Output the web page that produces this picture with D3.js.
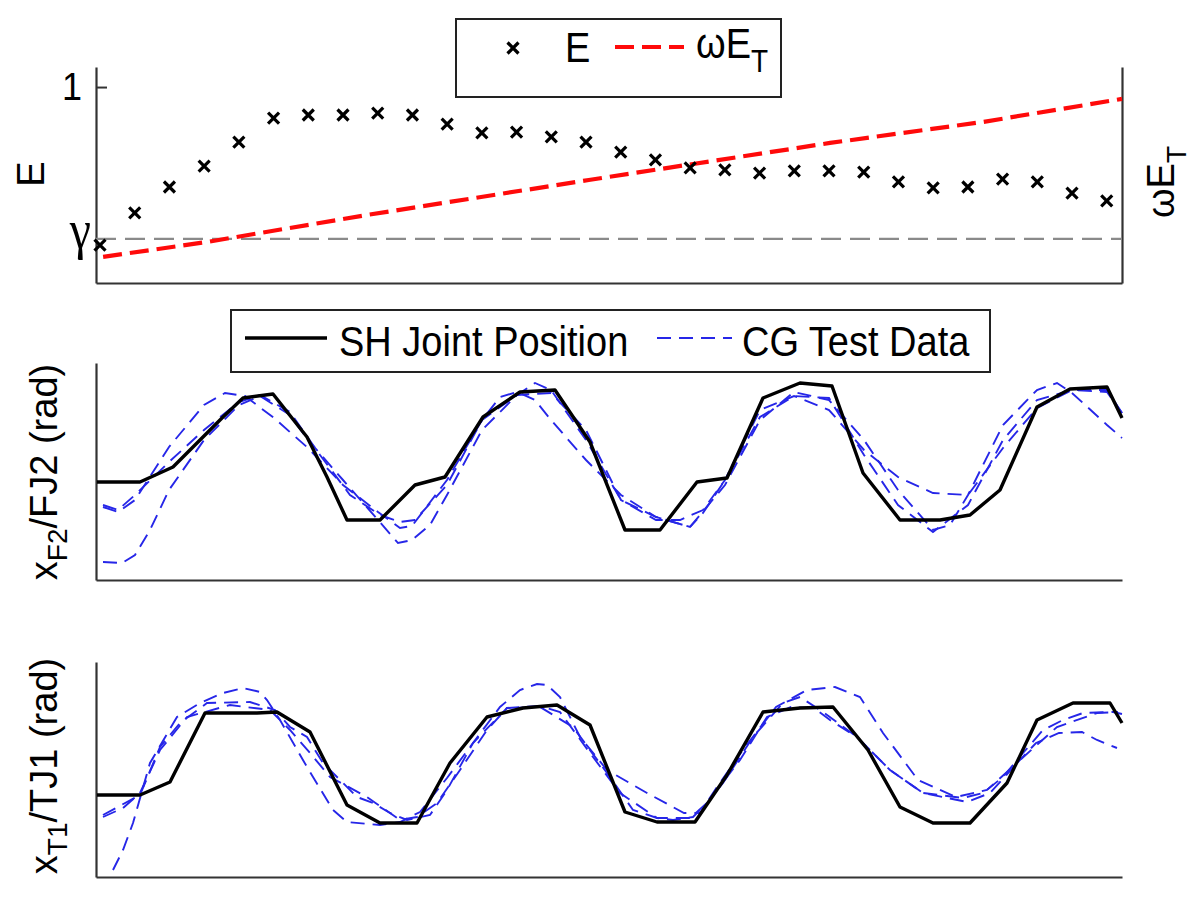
<!DOCTYPE html>
<html><head><meta charset="utf-8">
<script src="https://cdn.jsdelivr.net/npm/d3@7"></script>
<style>
body{margin:0;background:#fff}
text{font-family:"Liberation Sans",Arial,sans-serif;fill:#000}
</style>
</head><body>
<svg id="c" width="1200" height="905"></svg>
<script>
// ---------- Top panel data ----------
const trials = [1,2,3,4,5,6,7,8,9,10,11,12,13,14,15,16,17,18,19,20,21,22,23,24,25,26,27,28,29,30];
const E = [0.480,0.586,0.671,0.740,0.819,0.898,0.908,0.908,0.914,0.908,0.878,0.849,0.852,0.836,0.819,
           0.786,0.760,0.734,0.727,0.717,0.724,0.724,0.720,0.688,0.668,0.671,0.697,0.688,0.651,0.625];
const gamma = 0.5;
const wET_trial = [1.09,4.08,8.69,15.08,22.03,26.43,30.44];
const wET = [0.441,0.490,0.579,0.694,0.816,0.885,0.961];
const eTickValues = [1];
const eTickLabels = ["1"];

// ---------- Middle panel data (x_F2 / FJ2) ----------
const midSH_t = [0.1,4.4,7.7,9.7,12.7,14.7,17.7,21.1,23.1,25.1,28.4,31.9,34.9,38.7,42.4,45.9,49.4,52.9,56.4,60.1,63.1,66.7,70.4,73.6,76.7,80.4,84.4,87.4,90.4,94.1,97.4,101.1,102.6];
const midSH   = [-0.12,-0.12,0.03,0.23,0.53,0.72,0.76,0.33,-0.07,-0.50,-0.50,-0.15,-0.07,0.53,0.78,0.80,0.28,-0.60,-0.60,-0.12,-0.08,0.72,0.87,0.84,-0.03,-0.50,-0.50,-0.45,-0.20,0.63,0.81,0.83,0.52];
const midCG1_t = [0.7,2.2,3.9,7.3,10.8,12.9,14.9,17.8,21.2,24.7,28.2,30.4,31.6,35.1,38.6,40.4,42.1,43.9,45.5,49.0,52.5,56.0,59.4,62.9,66.4,69.8,73.3,76.8,80.2,83.7,85.4,87.2,90.7,94.1,96.1,97.6,101.1,102.6];
const midCG1   = [-0.37,-0.42,-0.30,0.23,0.65,0.77,0.74,0.52,0.22,-0.15,-0.42,-0.58,-0.56,-0.10,0.50,0.73,0.78,0.70,0.50,0.10,-0.25,-0.47,-0.57,-0.15,0.50,0.78,0.70,0.30,-0.20,-0.60,-0.55,-0.25,0.45,0.80,0.87,0.77,0.45,0.32];
const midCG2_t = [0.7,2.6,3.9,5.4,7.3,10.8,14.3,16.4,19.4,21.2,24.7,28.2,30.2,31.6,33.4,35.1,38.6,42.1,43.9,45.5,49.0,52.5,56.0,59.4,60.7,62.9,66.4,69.8,73.3,76.8,80.2,83.7,87.2,90.7,94.1,97.6,101.1,102.6];
const midCG2   = [-0.92,-0.93,-0.85,-0.60,-0.20,0.30,0.65,0.74,0.55,0.30,-0.10,-0.50,-0.73,-0.70,-0.55,-0.25,0.40,0.75,0.87,0.80,0.30,-0.30,-0.47,-0.57,-0.43,-0.10,0.53,0.74,0.72,0.15,-0.35,-0.62,-0.35,0.30,0.70,0.80,0.78,0.57];
const midCG3_t = [0.7,2.2,3.9,7.3,10.8,14.3,16.4,19.4,22.4,25.4,28.4,30.4,31.9,35.1,38.6,42.1,45.5,49.0,52.5,56.0,58.4,60.7,62.9,66.4,69.8,73.3,76.8,80.2,83.7,87.2,90.7,94.1,97.6,101.1,102.6];
const midCG3   = [-0.35,-0.40,-0.25,0.08,0.40,0.68,0.75,0.58,0.15,-0.25,-0.45,-0.52,-0.50,-0.15,0.50,0.75,0.77,0.40,-0.30,-0.50,-0.50,-0.40,-0.10,0.60,0.74,0.60,0.20,-0.07,-0.23,-0.25,0.22,0.62,0.80,0.80,0.57];

// ---------- Bottom panel data (x_T1 / TJ1) ----------
const botSH_t = [0.1,4.4,7.4,10.9,16.1,18.1,21.4,25.1,28.4,32.1,35.4,39.1,42.7,46.1,49.4,52.9,56.1,59.9,63.1,66.7,70.4,73.7,77.2,80.4,83.7,87.4,91.1,94.1,97.7,101.4,102.6];
const botSH   = [-0.25,-0.25,-0.12,0.57,0.57,0.58,0.38,-0.35,-0.53,-0.53,0.07,0.53,0.62,0.65,0.45,-0.42,-0.52,-0.52,-0.05,0.58,0.62,0.63,0.20,-0.37,-0.53,-0.53,-0.13,0.50,0.67,0.67,0.47];
const botCG1_t = [0.7,2.7,4.4,6.4,9.1,13.4,17.4,19.4,21.4,23.4,27.1,30.4,32.1,34.1,36.4,39.1,41.1,44.4,46.4,49.4,52.4,56.1,59.4,61.1,64.4,67.1,69.5,71.8,73.4,76.1,79.4,82.7,86.7,88.7,90.7,92.7,94.7,96.7,98.7,101.7,102.6];
const botCG1   = [-0.47,-0.38,-0.23,0.20,0.53,0.65,0.60,0.40,0.17,-0.07,-0.27,-0.50,-0.47,-0.33,0.00,0.40,0.62,0.64,0.58,0.17,-0.23,-0.48,-0.48,-0.33,0.10,0.53,0.63,0.62,0.50,0.33,0.00,-0.23,-0.28,-0.23,-0.07,0.17,0.40,0.50,0.57,0.58,0.56];
const botCG2_t = [1.7,2.7,3.7,5.4,8.1,10.4,12.7,14.7,16.4,17.1,18.4,21.1,23.7,25.1,28.4,30.4,32.4,35.1,37.7,40.4,42.4,44.1,45.1,46.4,48.4,51.1,55.1,58.8,60.4,61.9,64.9,68.0,71.1,73.9,76.4,78.7,82.2,86.0,89.1,92.1,94.0,96.3,98.6,100.1,102.1];
const botCG2   = [-1.00,-0.80,-0.53,0.07,0.53,0.67,0.77,0.82,0.78,0.70,0.50,0.03,-0.40,-0.52,-0.55,-0.52,-0.42,-0.08,0.27,0.63,0.80,0.86,0.85,0.73,0.33,0.00,-0.23,-0.43,-0.43,-0.20,0.23,0.63,0.80,0.83,0.73,0.37,-0.10,-0.27,-0.20,0.07,0.27,0.37,0.38,0.30,0.22];
const botCG3_t = [0.7,4.4,6.4,8.4,11.1,15.4,17.9,19.4,21.1,22.7,24.4,26.1,27.7,29.4,31.1,33.4,35.1,37.7,41.1,44.4,47.7,51.1,53.7,56.1,57.7,59.7,61.1,62.7,65.7,68.7,70.4,72.7,76.1,79.4,82.7,87.1,89.4,92.4,96.1,100.1,102.2];
const botCG3   = [-0.45,-0.25,0.23,0.47,0.67,0.68,0.60,0.43,0.33,0.07,-0.10,-0.27,-0.33,-0.43,-0.50,-0.45,-0.20,0.27,0.62,0.63,0.43,-0.03,-0.40,-0.48,-0.50,-0.47,-0.33,-0.13,0.33,0.67,0.73,0.58,0.33,0.00,-0.23,-0.32,-0.23,0.10,0.43,0.57,0.58];

// ---------- Drawing ----------
const svg = d3.select("#c");
const X0 = 96, X1 = 1122;
const xTrial = d3.scaleLinear().domain([0.885, 30.44]).range([X0, X1]);
const yE = d3.scaleLinear().domain([0.355, 1.066]).range([283, 67]);
const xTime = d3.scaleLinear().domain([0, 102.6]).range([X0, X1]);
const yMid = d3.scaleLinear().domain([-1.10, 1.07]).range([580, 363]);
const yBot = d3.scaleLinear().domain([-1.07, 1.08]).range([877, 662]);

const AX = "#333";
const SY = 1.1; // vertical stretch of the original figure's lettering
function styleAxis(g){
  g.selectAll(".domain").attr("stroke", AX).attr("stroke-width", 2.2);
  g.selectAll(".tick line").attr("stroke", AX).attr("stroke-width", 2);
  g.selectAll(".tick text").style("font-family", '"Liberation Sans",Arial,sans-serif').attr("fill","#000");
}
// horizontal text, stretched vertically about its baseline
function htext(x, y, size){
  return svg.append("text").attr("transform",`translate(${x},${y}) scale(1,${SY})`)
    .style("font-size", size + "px");
}

// top panel axes
const gTopL = svg.append("g").attr("transform", `translate(${X0},0)`)
  .call(d3.axisLeft(yE).tickValues(eTickValues).tickFormat((d,i)=>eTickLabels[i]).tickSizeInner(-11).tickSizeOuter(0).tickPadding(14));
styleAxis(gTopL);
gTopL.selectAll(".tick text").style("font-size","36px").attr("transform","scale(1,1.1)");
const gTopB = svg.append("g").attr("transform", `translate(0,283)`)
  .call(d3.axisBottom(xTrial).tickValues([]).tickSizeOuter(0));
styleAxis(gTopB);
const gTopR = svg.append("g").attr("transform", `translate(${X1},0)`)
  .call(d3.axisRight(yE).tickValues([]).tickSizeOuter(0));
styleAxis(gTopR);

// gamma line
svg.append("line").attr("x1", X0).attr("x2", X1).attr("y1", yE(gamma)).attr("y2", yE(gamma))
  .attr("stroke", "#8a8a8a").attr("stroke-width", 2.2).attr("stroke-dasharray", "20,9");
svg.append("text").attr("transform",`translate(91,${yE(gamma)+9}) scale(1,1.15)`).attr("text-anchor","end")
  .style("font-family",'"Liberation Serif","Times New Roman",serif').style("font-size","48px").text("γ");

// wE_T line
svg.append("path").datum(wET_trial.map((t,i)=>[t,wET[i]]))
  .attr("d", d3.line().x(d=>xTrial(d[0])).y(d=>yE(d[1])))
  .attr("fill","none").attr("stroke","#ff0a0a").attr("stroke-width",4.2).attr("stroke-dasharray","19,8");

// E markers
const cross = "M-5.5,-5.5L5.5,5.5M-5.5,5.5L5.5,-5.5";
svg.append("g").selectAll("path").data(trials).join("path")
  .attr("transform",(d,i)=>`translate(${xTrial(d)},${yE(E[i])})`)
  .attr("d", cross).attr("stroke","#000").attr("stroke-width",3.2).attr("fill","none");

// top y labels
svg.append("text").attr("transform","translate(44,174) rotate(-90)").attr("text-anchor","middle")
  .style("font-size","38px").text("E");
const rl = svg.append("text").attr("transform","translate(1174,182) rotate(-90)").attr("text-anchor","middle")
  .style("font-size","38px");
rl.append("tspan").text("ωE");
rl.append("tspan").attr("dy",12).style("font-size","28px").text("T");

// top legend
svg.append("rect").attr("x",456).attr("y",19).attr("width",325).attr("height",78)
  .attr("fill","#fff").attr("stroke","#222").attr("stroke-width",2);
svg.append("path").attr("transform","translate(513,48)").attr("d",cross)
  .attr("stroke","#000").attr("stroke-width",3.2);
htext(565, 62, 38).text("E");
svg.append("line").attr("x1",615).attr("x2",684).attr("y1",47).attr("y2",47)
  .attr("stroke","#ff0a0a").attr("stroke-width",4.2).attr("stroke-dasharray","19,8");
const lt = htext(696, 58, 38);
lt.append("tspan").text("ωE");
lt.append("tspan").attr("dy",13).style("font-size","28px").text("T");

// generic panel
function panel(yS, yBottom, sh_t, sh, cgs){
  const gL = svg.append("g").attr("transform",`translate(${X0},0)`)
    .call(d3.axisLeft(yS).tickValues([]).tickSizeOuter(0));
  styleAxis(gL);
  const gB = svg.append("g").attr("transform",`translate(0,${yBottom})`)
    .call(d3.axisBottom(xTime).tickValues([]).tickSizeOuter(0));
  styleAxis(gB);
  const line = d3.line().x(d=>xTime(d[0])).y(d=>yS(d[1]));
  cgs.forEach(([t,v])=>{
    svg.append("path").datum(t.map((x,i)=>[x,v[i]])).attr("d",line)
      .attr("fill","none").attr("stroke","#2626e8").attr("stroke-width",1.9)
      .attr("stroke-dasharray","14,8");
  });
  svg.append("path").datum(sh_t.map((x,i)=>[x,sh[i]])).attr("d",line)
    .attr("fill","none").attr("stroke","#000").attr("stroke-width",3.4).attr("stroke-linejoin","round");
}
panel(yMid, 580, midSH_t, midSH, [[midCG1_t,midCG1],[midCG2_t,midCG2],[midCG3_t,midCG3]]);
panel(yBot, 877, botSH_t, botSH, [[botCG1_t,botCG1],[botCG2_t,botCG2],[botCG3_t,botCG3]]);

// middle legend
svg.append("rect").attr("x",231).attr("y",310).attr("width",759).attr("height",62)
  .attr("fill","#fff").attr("stroke","#222").attr("stroke-width",2);
svg.append("line").attr("x1",245).attr("x2",327).attr("y1",338).attr("y2",338)
  .attr("stroke","#000").attr("stroke-width",3.4);
htext(339, 356, 38).text("SH Joint Position");
svg.append("line").attr("x1",657).attr("x2",732).attr("y1",338).attr("y2",338)
  .attr("stroke","#2626e8").attr("stroke-width",1.9).attr("stroke-dasharray","14,8");
htext(742, 356, 38).text("CG Test Data");

// middle & bottom y labels
function ylab(x, y, main, sub, rest){
  const t = svg.append("text").attr("transform",`translate(${x},${y}) rotate(-90)`).attr("text-anchor","middle")
    .style("font-size","38px");
  t.append("tspan").text(main);
  t.append("tspan").attr("dy",10).style("font-size","28px").text(sub);
  t.append("tspan").attr("dy",-10).text(rest);
}
ylab(57, 472, "x", "F2", "/FJ2 (rad)");
ylab(57, 766, "x", "T1", "/TJ1 (rad)");
</script>
</body></html>
